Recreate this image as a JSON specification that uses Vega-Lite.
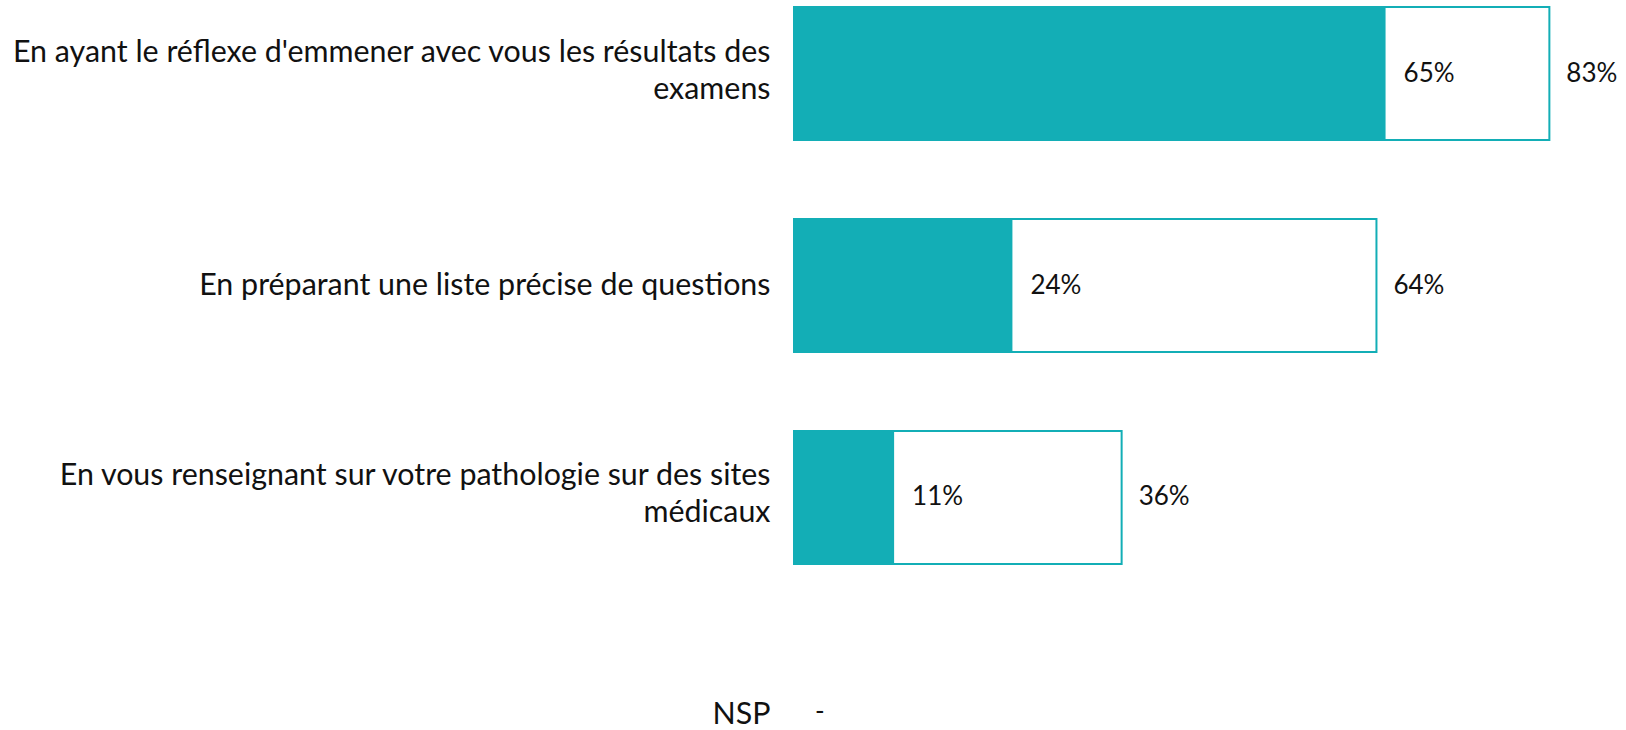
{
  "$schema": "https://vega.github.io/schema/vega-lite/v6.json",
  "width": 830,
  "height": 730,
  "autosize": {"type": "none"},
  "padding": {"left": 794, "top": 0, "right": 2, "bottom": 0},
  "background": "white",
  "config": {"view": {"stroke": null}, "font": "Lato"},
  "data": {
    "values": [
      {"cat": "En ayant le réflexe d'emmener avec vous les résultats des|examens", "value": 65, "total": 83, "vlabel": "65%", "tlabel": "83%"},
      {"cat": "En préparant une liste précise de questions", "value": 24, "total": 64, "vlabel": "24%", "tlabel": "64%"},
      {"cat": "En vous renseignant sur votre pathologie sur des sites|médicaux", "value": 11, "total": 36, "vlabel": "11%", "tlabel": "36%"},
      {"cat": "NSP", "value": 0, "total": 0, "vlabel": "", "tlabel": "-"}
    ]
  },
  "encoding": {
    "y": {
      "field": "cat", "type": "nominal", "sort": null,
      "scale": {"range": [7, 776], "paddingInner": 0.3726, "paddingOuter": 0},
      "axis": {
        "title": null, "domain": false, "ticks": false, "labelPadding": 24,
        "labelFontSize": 30.4, "labelColor": "#111111", "labelFont": "Lato",
        "labelLineHeight": 37, "labelLimit": 0,
        "labelExpr": "split(datum.value, '|')",
        "labelOffset": {
          "condition": [
            {"test": "datum.value == 'NSP'", "value": 6},
            {"test": "indexof(datum.value, '|') >= 0", "value": -21}
          ],
          "value": 0
        }
      }
    }
  },
  "layer": [
    {
      "transform": [{"filter": "datum.total > 0"}],
      "mark": {"type": "bar", "fill": "white", "stroke": "#13AEB6", "strokeWidth": 2},
      "encoding": {
        "x": {"field": "total", "type": "quantitative", "scale": {"domain": [0, 91.2], "zero": true, "nice": false}, "axis": null}
      }
    },
    {
      "transform": [{"filter": "datum.value > 0"}],
      "mark": {"type": "bar", "color": "#13AEB6"},
      "encoding": {
        "x": {"field": "value", "type": "quantitative"}
      }
    },
    {
      "transform": [{"filter": "datum.value > 0"}],
      "mark": {"type": "text", "align": "left", "baseline": "middle", "dx": 18, "fontSize": 26, "color": "#111111"},
      "encoding": {
        "x": {"field": "value", "type": "quantitative"},
        "text": {"field": "vlabel"}
      }
    },
    {
      "transform": [{"filter": "datum.total > 0"}],
      "mark": {"type": "text", "align": "left", "baseline": "middle", "dx": 17, "fontSize": 26, "color": "#111111"},
      "encoding": {
        "x": {"field": "total", "type": "quantitative"},
        "text": {"field": "tlabel"}
      }
    },
    {
      "transform": [{"filter": "datum.total == 0"}],
      "mark": {"type": "text", "align": "left", "baseline": "middle", "dx": 21, "dy": 3, "fontSize": 26, "color": "#111111"},
      "encoding": {
        "x": {"field": "total", "type": "quantitative"},
        "text": {"field": "tlabel"}
      }
    }
  ]
}
